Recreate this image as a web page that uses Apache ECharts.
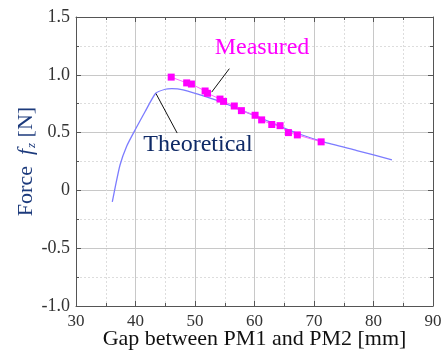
<!DOCTYPE html>
<html>
<head>
<meta charset="utf-8">
<script src="https://cdn.jsdelivr.net/npm/echarts@6/dist/echarts.min.js"></script>
<style>
  html, body { margin: 0; padding: 0; background: #fff; }
  #chart { width: 446px; height: 356px; }
</style>
</head>
<body>
<div id="chart"></div>
<script>
// measured points (gap mm, force N)
const measuredX = [46.0, 48.6, 49.4, 51.7, 52.1, 54.2, 54.8, 56.6, 57.8, 60.1, 61.2, 62.9, 64.3, 65.7, 67.2, 71.2];
const measuredY = [0.98, 0.93, 0.92, 0.86, 0.84, 0.79, 0.77, 0.73, 0.69, 0.65, 0.61, 0.57, 0.56, 0.50, 0.48, 0.42];

// theoretical curve
const theoryX = [36.1, 36.6, 37.4, 38.5, 39.9, 41.6, 43.4, 45.0, 46.1, 48.0, 50.6, 54.2, 57.0, 60.9, 64.0, 67.4, 71.6, 77.2, 83.1];
const theoryY = [-0.10, 0.03, 0.22, 0.38, 0.52, 0.68, 0.84, 0.875, 0.88, 0.87, 0.83, 0.77, 0.71, 0.63, 0.56, 0.49, 0.42, 0.345, 0.265];

const yTickLabels = { "1.5": "1.5", "1": "1.0", "0.5": "0.5", "0": "0", "-0.5": "-0.5", "-1": "-1.0" };

// leader lines for the two callouts, in data coords
const measuredLeader = [[55.77, 1.053], [52.8, 0.85]];
const theoryLeader = [[43.45, 0.837], [47.0, 0.496]];

const serif = "Liberation Serif";
const chart = echarts.init(document.getElementById("chart"));

const frameAxis = {
  axisLine: { show: true, onZero: false, lineStyle: { color: "#555", width: 1 } },
  axisTick: { show: true, inside: true, length: 5, lineStyle: { color: "#555" } },
  minorTick: { show: true, splitNumber: 2, length: 3, lineStyle: { color: "#555" } },
};

const option = {
  backgroundColor: "#fff",
  animation: false,
  grid: { left: 76, top: 17, right: 13, bottom: 50 },
  xAxis: [
    {
      type: "value", min: 30, max: 90, interval: 10, position: "bottom",
      ...frameAxis,
      axisLabel: { color: "#333", fontFamily: serif, fontSize: 17, margin: 7 },
      splitLine: { show: true, lineStyle: { color: "#c8c8c8", width: 1 } },
      minorSplitLine: { show: true, lineStyle: { color: "#ddd", type: [2, 2] } },
      name: "Gap between PM1 and PM2 [mm]",
      nameLocation: "middle", nameGap: 22, nameMoveOverlap: false,
      nameTextStyle: { color: "#111", fontFamily: serif, fontSize: 22 },
    },
    {
      type: "value", min: 30, max: 90, interval: 10, position: "top",
      ...frameAxis,
      axisLabel: { show: false },
      splitLine: { show: false },
    },
  ],
  yAxis: [
    {
      type: "value", min: -1, max: 1.5, interval: 0.5, position: "left",
      ...frameAxis,
      axisLabel: {
        color: "#333", fontFamily: serif, fontSize: 18, margin: 6,
        formatter: (v) => yTickLabels[String(v)] ?? String(v),
      },
      splitLine: { show: true, lineStyle: { color: "#c8c8c8", width: 1 } },
      minorSplitLine: { show: true, lineStyle: { color: "#ddd", type: [2, 2] } },
      name: "{n|Force  }{f|f}{z|z}{n| [N]}",
      nameLocation: "middle", nameGap: 38, nameRotate: 90, nameMoveOverlap: false,
      nameTextStyle: {
        color: "#1c3a7c", fontFamily: serif, fontSize: 22,
        rich: {
          n: { color: "#1c3a7c", fontFamily: serif, fontSize: 22 },
          f: { color: "#1c3a7c", fontFamily: serif, fontSize: 22, fontStyle: "italic" },
          z: { color: "#1c3a7c", fontFamily: serif, fontSize: 13, fontStyle: "italic", padding: [10, 0, 0, 1] },
        },
      },
    },
    {
      type: "value", min: -1, max: 1.5, interval: 0.5, position: "right",
      ...frameAxis,
      axisLabel: { show: false },
      splitLine: { show: false },
    },
  ],
  series: [
    {
      name: "Theoretical",
      type: "line",
      data: theoryX.map((x, i) => [x, theoryY[i]]),
      showSymbol: false,
      symbol: "none",
      smooth: 0.2,
      lineStyle: { color: "#7c7cff", width: 1.3 },
      z: 3,
      markLine: {
        silent: true, symbol: "none", label: { show: false },
        lineStyle: { color: "#111", width: 1, type: "solid" },
        data: [
          [{ coord: theoryLeader[0] }, { coord: theoryLeader[1] }],
          [{ coord: measuredLeader[0] }, { coord: measuredLeader[1] }],
        ],
      },
    },
    {
      name: "Measured",
      type: "line",
      data: measuredX.map((x, i) => [x, measuredY[i]]),
      symbol: "rect",
      symbolSize: 7,
      itemStyle: { color: "#ff00ff" },
      lineStyle: { color: "#ff66ff", width: 1 },
      z: 4,
    },
  ],
  graphic: [
    {
      type: "text", x: 262, y: 48, z: 10,
      style: { text: "Measured", fill: "#ff00ff", font: "24px 'Liberation Serif'", align: "center", verticalAlign: "middle" },
    },
    {
      type: "text", x: 198, y: 145, z: 10,
      style: { text: "Theoretical", fill: "#0f2a66", font: "24px 'Liberation Serif'", align: "center", verticalAlign: "middle" },
    },
  ],
};

chart.setOption(option);
</script>
</body>
</html>
